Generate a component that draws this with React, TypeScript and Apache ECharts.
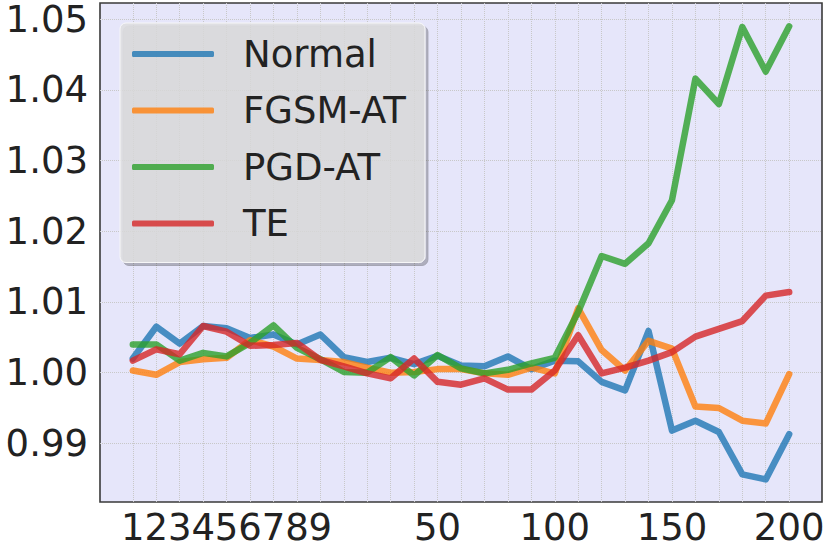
import React, { useEffect, useRef } from "react";
import * as echarts from "echarts";

// Epochs at each x position (positions are evenly spaced by index)
const EPOCHS = [1, 2, 3, 4, 5, 6, 7, 8, 9, 10, 20, 30, 40, 50, 60, 70, 80, 90, 100, 110, 120, 130, 140, 150, 160, 170, 180, 190, 200];
const X_TICK_LABELS = [1, 2, 3, 4, 5, 6, 7, 8, 9, 50, 100, 150, 200];
const Y_TICKS = [0.99, 1.0, 1.01, 1.02, 1.03, 1.04, 1.05];

const SERIES_NAMES = ["Normal", "FGSM-AT", "PGD-AT", "TE"];

const NORMAL = [1.0020, 1.0065, 1.0041, 1.0066, 1.0063, 1.0049, 1.0054, 1.0040, 1.0054, 1.0022, 1.0015, 1.0021, 1.0012, 1.0024, 1.0010, 1.0009, 1.0023, 1.0005, 1.0017, 1.0016, 0.9987, 0.9975, 1.0059, 0.9918, 0.9932, 0.9916, 0.9856, 0.9849, 0.9913];
const FGSM_AT = [1.0003, 0.9997, 1.0015, 1.0019, 1.0021, 1.0046, 1.0037, 1.0020, 1.0018, 1.0015, 1.0007, 1.0000, 1.0001, 1.0005, 1.0005, 0.9999, 0.9997, 1.0007, 0.9999, 1.0091, 1.0032, 1.0003, 1.0045, 1.0034, 0.9952, 0.9950, 0.9932, 0.9928, 0.9998];
const PGD_AT = [1.0040, 1.0040, 1.0017, 1.0028, 1.0023, 1.0042, 1.0067, 1.0035, 1.0019, 1.0001, 1.0000, 1.0022, 0.9996, 1.0025, 1.0006, 0.9999, 1.0004, 1.0013, 1.0021, 1.0086, 1.0165, 1.0154, 1.0183, 1.0244, 1.0416, 1.0380, 1.0489, 1.0426, 1.0490];
const TE = [1.0017, 1.0033, 1.0026, 1.0066, 1.0058, 1.0038, 1.0039, 1.0042, 1.0018, 1.0009, 0.9999, 0.9992, 1.0020, 0.9987, 0.9983, 0.9992, 0.9976, 0.9976, 1.0003, 1.0053, 0.9999, 1.0007, 1.0017, 1.0029, 1.0051, 1.0062, 1.0073, 1.0109, 1.0114];

const COLORS = [
  "rgba(31,119,180,0.8)",
  "rgba(255,127,14,0.8)",
  "rgba(44,160,44,0.8)",
  "rgba(214,39,40,0.8)",
];

const FONT = "DejaVu Sans";

export default function App() {
  const ref = useRef<HTMLDivElement>(null);

  useEffect(() => {
    document.body.style.margin = "0";
    if (!ref.current) return;
    const chart = echarts.init(ref.current, undefined, { renderer: "svg" });

    const allSeries = [NORMAL, FGSM_AT, PGD_AT, TE];
    const xIdx = EPOCHS.map((_, i) => i);
    const xLabelIdx = X_TICK_LABELS.map((e) => EPOCHS.indexOf(e));

    chart.setOption({
      animation: false,
      grid: {
        left: 100,
        right: 8,
        top: 3,
        bottom: 52,
        show: true,
        backgroundColor: "#e6e6fa",
        borderColor: "#3a3a3a",
        borderWidth: 1.6,
        containLabel: false,
        outerBoundsMode: "none",
      },
      legend: {
        orient: "vertical",
        left: 120,
        top: 23,
        padding: [12.5, 19, 20.5, 12],
        itemGap: 19.5,
        itemWidth: 82,
        itemHeight: 6,
        icon: "roundRect",
        backgroundColor: "rgba(221,221,221,0.8)",
        borderColor: "rgba(250,250,250,0.9)",
        borderWidth: 1,
        borderRadius: 6,
        shadowColor: "rgba(0,0,0,0.3)",
        shadowBlur: 0,
        shadowOffsetX: 3,
        shadowOffsetY: 3,
        textStyle: {
          fontFamily: FONT,
          fontSize: 37,
          lineHeight: 37,
          color: "#222222",
          padding: [0, 0, 0, 24],
        },
        data: SERIES_NAMES.map((n, i) => ({ name: n, itemStyle: { color: COLORS[i] } })),
      },
      xAxis: {
        type: "value",
        min: -1.4,
        max: 29.4,
        axisLine: { show: false },
        axisTick: { show: false, customValues: xIdx },
        axisLabel: {
          customValues: xLabelIdx,
          formatter: (v: number) => String(EPOCHS[Math.round(v)]),
          fontFamily: FONT,
          fontSize: 37,
          lineHeight: 30,
          color: "#222222",
          margin: 10.5,
        },
        splitLine: {
          show: true,
          lineStyle: { type: "dotted", color: "#c8c8c8", width: 1 },
        },
      },
      yAxis: {
        type: "value",
        min: 0.9817,
        max: 1.0523,
        axisLine: { show: false },
        axisTick: { show: false, customValues: Y_TICKS },
        axisLabel: {
          customValues: Y_TICKS,
          formatter: (v: number) => v.toFixed(2),
          fontFamily: FONT,
          fontSize: 37,
          lineHeight: 30,
          color: "#222222",
          margin: 12,
        },
        splitLine: {
          show: true,
          lineStyle: { type: "dotted", color: "#c8c8c8", width: 1 },
        },
      },
      series: allSeries.map((vals, s) => ({
        name: SERIES_NAMES[s],
        type: "line",
        data: vals.map((v, i) => [xIdx[i], v]),
        showSymbol: false,
        symbol: "none",
        itemStyle: { color: COLORS[s] },
        lineStyle: { color: COLORS[s], width: 6.5, cap: "round", join: "round" },
        emphasis: { disabled: true },
      })),
    });

    return () => {
      chart.dispose();
    };
  }, []);

  return <div ref={ref} style={{ width: 830, height: 554 }} />;
}
